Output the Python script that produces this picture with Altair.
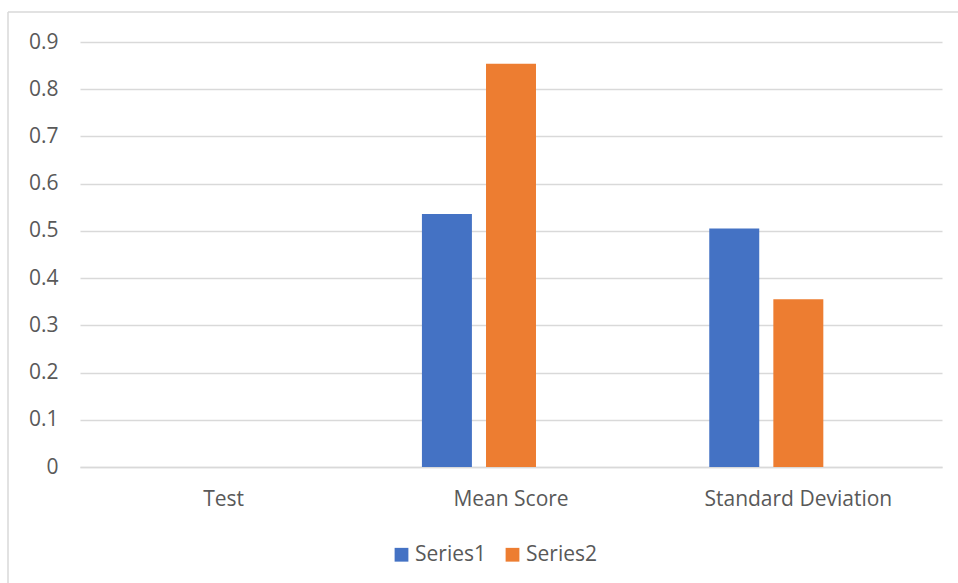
import altair as alt
import pandas as pd

categories = ["Test", "Mean Score", "Standard Deviation"]
series_names = ["Series1", "Series2"]
series1 = [None, 0.536, 0.505]
series2 = [None, 0.854, 0.355]
y_ticks = [0, 0.1, 0.2, 0.3, 0.4, 0.5, 0.6, 0.7, 0.8, 0.9]
colors = ["#4472C4", "#ED7D31"]

rows = []
for c, a, b in zip(categories, series1, series2):
    rows.append({"category": c, "series": "Series1", "value": a})
    rows.append({"category": c, "series": "Series2", "value": b})
df = pd.DataFrame(rows)

FONT = "Open Sans"
TEXT = "#595959"
GRID = "#D9D9D9"
FS = 21

W, H = 862, 425

bars = alt.Chart(df).mark_bar().encode(
    x=alt.X(
        "category:N",
        sort=categories,
        scale=alt.Scale(paddingInner=0.38, paddingOuter=0.19),
        axis=alt.Axis(
            title=None, labelAngle=0, domain=True, domainColor=GRID, domainWidth=1.5,
            ticks=False, labelPadding=21, labelFontSize=FS, labelColor=TEXT,
            labelFont=FONT, labelLimit=0, labelOverlap=False,
        ),
    ),
    xOffset=alt.XOffset(
        "series:N",
        scale=alt.Scale(domain=["Series1", "Series2", "Series3"], paddingInner=0.22, paddingOuter=0),
    ),
    y=alt.Y(
        "value:Q",
        scale=alt.Scale(domain=[0, 0.9], nice=False),
        axis=alt.Axis(
            values=y_ticks, title=None, domain=False, ticks=False,
            gridColor=GRID, gridWidth=1.5, labelPadding=22, labelFontSize=FS,
            labelColor=TEXT, labelFont=FONT,
            labelExpr="datum.value == 0 ? '0' : format(datum.value, '.1f')",
        ),
    ),
    color=alt.Color(
        "series:N",
        scale=alt.Scale(domain=series_names, range=colors),
        legend=alt.Legend(
            orient="none", legendX=311, legendY=502, direction="horizontal",
            title=None, symbolType="square", symbolSize=190, symbolStrokeWidth=0,
            labelFontSize=FS, labelColor=TEXT, labelFont=FONT, columnPadding=16,
            labelOffset=3, labelLimit=0,
        ),
    ),
)

frame_df = pd.DataFrame({"k": [0]})
left_border = alt.Chart(frame_df).mark_rule(color=GRID, strokeWidth=1.5).encode(
    x=alt.value(-72), y=alt.value(-30), y2=alt.value(560)
)
top_border = alt.Chart(frame_df).mark_rule(color=GRID, strokeWidth=1.5).encode(
    x=alt.value(-72), x2=alt.value(900), y=alt.value(-30)
)

chart = alt.layer(bars, left_border, top_border).properties(
    width=W,
    height=H,
    autosize=alt.AutoSizeParams(type="none"),
    padding={"left": 80, "top": 42, "right": 16, "bottom": 116},
    background="white",
).configure_view(stroke=None)

chart.save("out.html", embed_options={"renderer": "svg", "actions": False})
